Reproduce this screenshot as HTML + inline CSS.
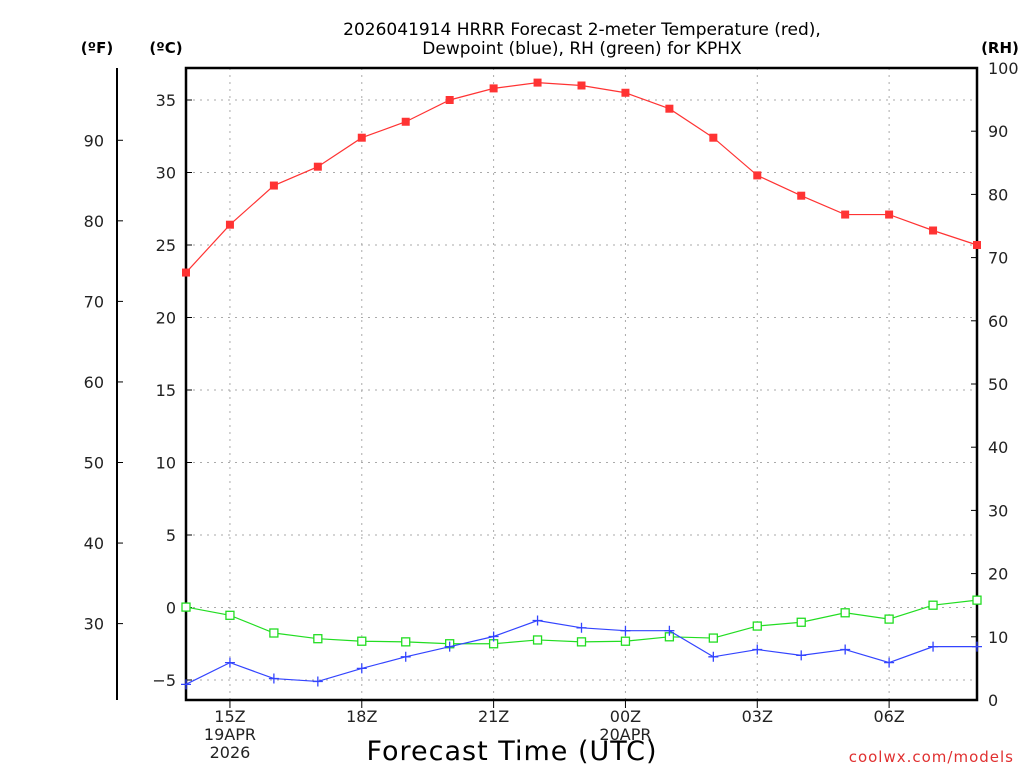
<!DOCTYPE html>
<html><head><meta charset="utf-8"><style>
body{margin:0;background:#fff;width:1024px;height:768px;overflow:hidden}
text{font-family:"DejaVu Sans","Liberation Sans",sans-serif}
</style></head><body>
<svg id="chart" width="1024" height="768" xmlns="http://www.w3.org/2000/svg">
<text x="582" y="35" text-anchor="middle" font-size="17" fill="#000">2026041914 HRRR Forecast 2-meter Temperature (red),</text>
<text x="582" y="54" text-anchor="middle" font-size="17" fill="#000">Dewpoint (blue), RH (green) for KPHX</text>
<text x="97" y="53" text-anchor="middle" font-size="15" font-weight="bold">(ºF)</text>
<text x="166" y="53" text-anchor="middle" font-size="15" font-weight="bold">(ºC)</text>
<text x="1000" y="53" text-anchor="middle" font-size="15" font-weight="bold">(RH)</text>
<text x="512" y="760" text-anchor="middle" font-size="27" letter-spacing="1">Forecast Time (UTC)</text>
<text x="1014" y="762" text-anchor="end" font-size="15" fill="#e03030" letter-spacing="1">coolwx.com/models</text>
<g id="g"></g>
</svg>
<script>
const hours=[14,15,16,17,18,19,20,21,22,23,24,25,26,27,28,29,30,31,32];
const tempC=[23.1,26.4,29.1,30.4,32.4,33.5,35.0,35.8,36.2,36.0,35.5,34.4,32.4,29.8,28.4,27.1,27.1,26.0,25.0];
const dewC=[-5.3,-3.8,-4.9,-5.1,-4.2,-3.4,-2.7,-2.0,-0.9,-1.4,-1.6,-1.6,-3.4,-2.9,-3.3,-2.9,-3.8,-2.7,-2.7];
const rh=[14.7,13.4,10.6,9.7,9.3,9.2,8.9,8.9,9.5,9.2,9.3,10.0,9.8,11.7,12.3,13.8,12.8,15.0,15.8];
const cTicks=[-5,0,5,10,15,20,25,30,35];
const fTicks=[30,40,50,60,70,80,90];
const rhTicks=[0,10,20,30,40,50,60,70,80,90,100];
const xTicks=[15,18,21,24,27,30];
const xLabels=["15Z","18Z","21Z","00Z","03Z","06Z"];
const L=186,R=977,T=68,B=700;
const x=h=>L+(h-14)*(R-L)/18;
const yC=c=>607.5-c*14.5;
const yF=f=>yC((f-32)/1.8);
const yR=r=>B-r*(B-T)/100;
const g=document.getElementById('g');const NS='http://www.w3.org/2000/svg';
function el(t,a,txt){const e=document.createElementNS(NS,t);for(const k in a)e.setAttribute(k,a[k]);if(txt!=null)e.textContent=txt;g.appendChild(e);return e;}
cTicks.forEach(c=>{const l=el('line',{x1:L,x2:R,y1:yC(c),y2:yC(c),stroke:'#aaa','stroke-dasharray':'2,5'});

const t=el('text',{x:L-10,y:yC(c)+6,'text-anchor':'end','font-size':16,fill:'#222'},c<0?'−'+(-c):c);

el('line',{x1:L,x2:L+6,y1:yC(c),y2:yC(c),stroke:'#000'});});
xTicks.forEach((h,i)=>{const l=el('line',{x1:x(h),x2:x(h),y1:T,y2:B,stroke:'#aaa','stroke-dasharray':'2,5'});

el('line',{x1:x(h),x2:x(h),y1:B,y2:B+8,stroke:'#000'});
const t=el('text',{x:x(h),y:722,'text-anchor':'middle','font-size':16,fill:'#222'},xLabels[i]);
});
[["19APR",740,15],["2026",758,15],["20APR",740,24]].forEach(d=>{const t=el('text',{x:x(d[2]),y:d[1],'text-anchor':'middle','font-size':16,fill:'#222'},d[0]);
});
fTicks.forEach(f=>{el('line',{x1:117,x2:123,y1:yF(f),y2:yF(f),stroke:'#000'});
const t=el('text',{x:104,y:yF(f)+6,'text-anchor':'end','font-size':16,fill:'#222'},f);
});
rhTicks.forEach(r=>{el('line',{x1:R-6,x2:R,y1:yR(r),y2:yR(r),stroke:'#000'});
const t=el('text',{x:988,y:yR(r)+6,'font-size':16,fill:'#222'},r);
});
const fa=el('line',{x1:117,x2:117,y1:T,y2:B,stroke:'#000','stroke-width':2});

const fr=el('rect',{x:L,y:T,width:R-L,height:B-T,fill:'none',stroke:'#000','stroke-width':2.5});

function series(vals,yf,col,name,mk){const p=el('polyline',{points:vals.map((v,i)=>x(hours[i])+','+yf(v)).join(' '),fill:'none',stroke:col,'stroke-width':1.2});

vals.forEach((v,i)=>{const cx=x(hours[i]),cy=yf(v);let m;
if(mk==='fill')m=el('rect',{x:cx-4,y:cy-4,width:8,height:8,fill:col});
else if(mk==='open')m=el('rect',{x:cx-4,y:cy-4,width:8,height:8,fill:'#fff',stroke:col,'stroke-width':1.3});
else m=el('path',{d:`M${cx-5},${cy}H${cx+5}M${cx},${cy-5}V${cy+5}`,stroke:col,'stroke-width':1.3});
});}
series(rh,yR,'#22dd22','rh','open');
series(dewC,yC,'#3344ff','dewpoint','plus');
series(tempC,yC,'#ff3333','temperature','fill');
</script>
</body></html>
